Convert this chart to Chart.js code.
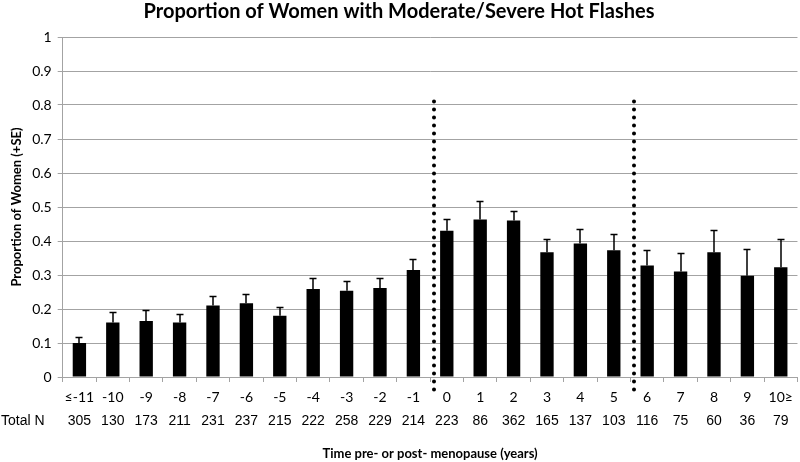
<!DOCTYPE html>
<html>
<head>
<meta charset="utf-8">
<script src="https://cdn.jsdelivr.net/npm/chart.js@4.4.1/dist/chart.umd.min.js"></script>
<style>
  html, body { margin: 0; padding: 0; background: #ffffff; }
  #wrap { width: 800px; height: 462px; }
</style>
</head>
<body>
<div id="wrap"><canvas id="c" width="800" height="462"></canvas></div>
<script>
// ---- Data ----
const categories = ["≤-11","-10","-9","-8","-7","-6","-5","-4","-3","-2","-1","0","1","2","3","4","5","6","7","8","9","10≥"];
const totalN = [305,130,173,211,231,237,215,222,258,229,214,223,86,362,165,137,103,116,75,60,36,79];
const proportion = [0.100,0.160,0.165,0.160,0.210,0.217,0.180,0.259,0.254,0.262,0.315,0.430,0.463,0.460,0.367,0.393,0.373,0.328,0.310,0.367,0.298,0.323];
const standardError = [0.018,0.032,0.031,0.026,0.028,0.028,0.027,0.031,0.028,0.029,0.032,0.035,0.055,0.028,0.039,0.043,0.049,0.045,0.055,0.065,0.079,0.082];
// dotted phase separators are drawn after these categories
const phaseBreakAfter = ["-1", "5"];
const yTicks = [0,0.1,0.2,0.3,0.4,0.5,0.6,0.7,0.8,0.9,1];

const GRID = '#a3a3a3';
const BODY_FONT = 'Lato, "Open Sans", sans-serif';
const NARROW_FONT = '"Liberation Sans Narrow", "Liberation Sans", Arial, sans-serif';

const errorBarPlugin = {
  id: 'errorBars',
  afterDatasetsDraw(chart) {
    const ctx = chart.ctx;
    const meta = chart.getDatasetMeta(0);
    const y = chart.scales.y;
    ctx.save();
    ctx.strokeStyle = '#000';
    ctx.lineWidth = 1.5;
    meta.data.forEach((bar, i) => {
      const top = Math.round(y.getPixelForValue(proportion[i] + standardError[i])) + 0.5;
      const x = Math.round(bar.x);
      ctx.beginPath();
      ctx.moveTo(x, bar.y);
      ctx.lineTo(x, top);
      ctx.moveTo(x - 3.5, top);
      ctx.lineTo(x + 3.5, top);
      ctx.stroke();
    });
    ctx.restore();
  }
};

const phaseLinePlugin = {
  id: 'phaseLines',
  afterDraw(chart) {
    const ctx = chart.ctx;
    const xs = chart.scales.x;
    const ys = chart.scales.y;
    ctx.save();
    ctx.strokeStyle = '#000';
    ctx.lineWidth = 4;
    ctx.lineCap = 'round';
    ctx.setLineDash([0, 8]);
    phaseBreakAfter.forEach(lbl => {
      const idx = categories.indexOf(lbl);
      const x = Math.round(xs.getPixelForValue(idx + 0.62));
      const yTop = ys.getPixelForValue(0.81);
      const yBot = ys.getPixelForValue(0) + 20;
      ctx.beginPath();
      ctx.moveTo(x, yTop);
      ctx.lineTo(x, yBot);
      ctx.stroke();
    });
    ctx.restore();
    // "Total N" row label
    const xn = chart.scales.xN;
    ctx.save();
    ctx.fillStyle = '#000';
    ctx.font = '14px ' + NARROW_FONT;
    ctx.textBaseline = 'middle';
    ctx.textAlign = 'left';
    const items = xn.getLabelItems();
    const rowY = items[0] ? items[0].options.translation[1] : 413;
    ctx.fillText('Total N', 1, rowY + 8);
    ctx.restore();
  }
};

new Chart(document.getElementById('c'), {
  type: 'bar',
  data: {
    labels: categories,
    datasets: [{
      data: proportion,
      backgroundColor: '#000000',
      borderWidth: 0,
      barPercentage: 0.4,
      categoryPercentage: 1.0,
      xAxisID: 'x',
      yAxisID: 'y'
    }]
  },
  options: {
    responsive: false,
    animation: false,
    devicePixelRatio: 1,
    layout: { padding: { left: 0, right: 2, top: 0, bottom: 0 } },
    plugins: {
      legend: { display: false },
      tooltip: { enabled: false },
      title: {
        display: true,
        text: 'Proportion of Women with Moderate/Severe Hot Flashes',
        color: '#000',
        font: { family: BODY_FONT, size: 20, weight: 'bold' },
        padding: { top: 0, bottom: 13 }
      }
    },
    scales: {
      y: {
        min: 0,
        max: 1,
        afterBuildTicks(scale) { scale.ticks = yTicks.map(v => ({ value: v })); },
        afterFit(scale) { scale.width = 62.7; },
        ticks: {
          color: '#000',
          font: { family: BODY_FONT, size: 14 },
          padding: 6,
          callback: v => String(+v.toFixed(1))
        },
        grid: { color: GRID, lineWidth: 1, tickLength: 5, drawTicks: true },
        border: { display: true, color: GRID, width: 1 },
        title: {
          display: true,
          text: 'Proportion of Women (+SE)',
          color: '#000',
          font: { family: BODY_FONT, size: 13, weight: 'bold' },
          padding: { top: 9, bottom: 0 }
        }
      },
      x: {
        type: 'category',
        position: 'bottom',
        offset: true,
        afterFit(scale) { scale.height = 32; },
        ticks: {
          color: '#000',
          font: { family: BODY_FONT, size: 14 },
          padding: 7,
          maxRotation: 0,
          autoSkip: false
        },
        grid: { offset: true, drawOnChartArea: false, drawTicks: true, tickLength: 5, color: GRID },
        border: { display: true, color: GRID, width: 1 }
      },
      xN: {
        type: 'category',
        position: 'bottom',
        offset: true,
        labels: totalN.map(String),
        afterFit(scale) { scale.height = 53; },
        ticks: {
          color: '#000',
          font: { family: NARROW_FONT, size: 14 },
          padding: 4,
          maxRotation: 0,
          autoSkip: false
        },
        grid: { display: false, drawTicks: false },
        border: { display: false },
        title: {
          display: true,
          text: 'Time pre- or post- menopause (years)',
          color: '#000',
          font: { family: BODY_FONT, size: 13, weight: 'bold' },
          padding: { top: 0, bottom: 0 }
        }
      }
    }
  },
  plugins: [errorBarPlugin, phaseLinePlugin]
});
</script>
</body>
</html>
